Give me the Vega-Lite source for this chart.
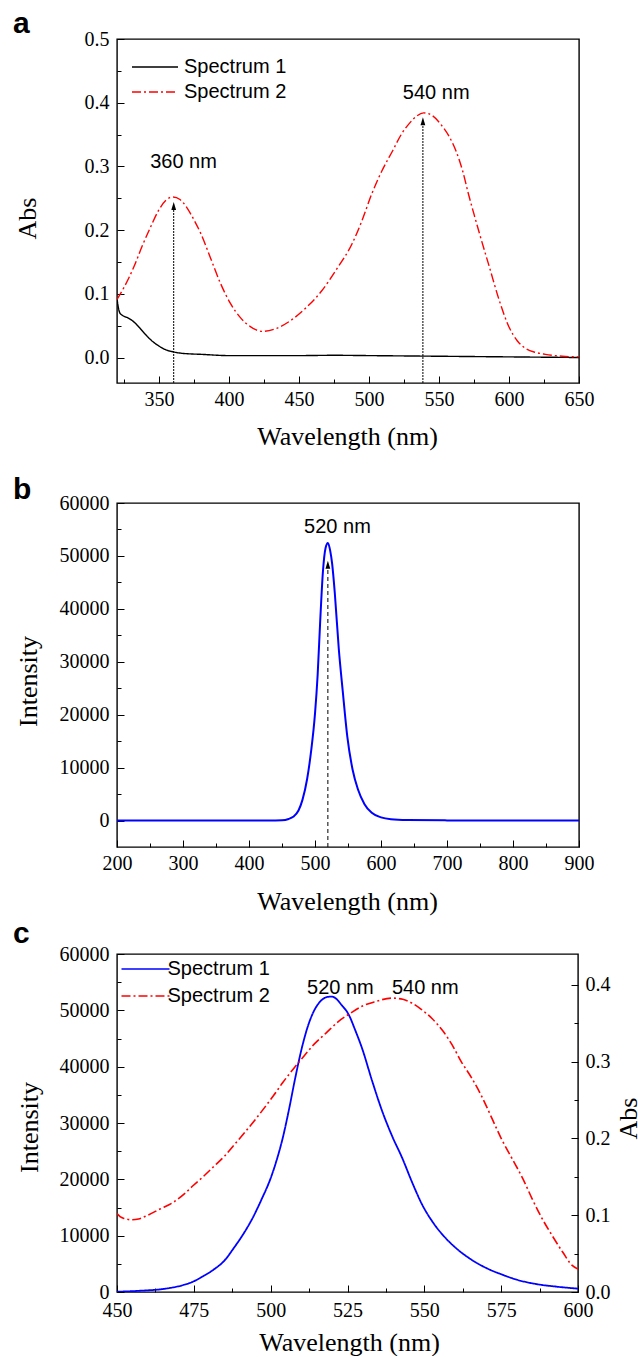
{
  "$schema": "https://vega.github.io/schema/vega-lite/v6.json",
  "padding": {"left": 12, "top": 8, "right": 0, "bottom": 0},
  "spacing": 3,
  "config": {
    "view": {"stroke": "black", "strokeWidth": 1.4},
    "axis": {"labelFont": "Liberation Serif", "labelFontSize": 20, "labelColor": "black", "titleFont": "Liberation Serif", "titleFontSize": 26, "titleFontWeight": "normal", "titleColor": "black", "tickColor": "black", "tickWidth": 1, "domain": false, "grid": false, "labelFlush": false, "labelOverlap": false},
    "text": {"font": "Liberation Sans", "fontSize": 20, "color": "black"},
    "title": {"font": "Liberation Sans", "fontSize": 30, "fontWeight": "bold", "color": "black"}
  },
  "datasets": {
    "A": [
      {"wl": 320, "v": 0.092, "s": "Spectrum 1"}, {"wl": 321, "v": 0.078, "s": "Spectrum 1"}, {"wl": 322, "v": 0.07, "s": "Spectrum 1"}, {"wl": 324, "v": 0.066, "s": "Spectrum 1"}, {"wl": 328, "v": 0.062, "s": "Spectrum 1"}, {"wl": 332, "v": 0.056, "s": "Spectrum 1"}, {"wl": 336, "v": 0.047, "s": "Spectrum 1"}, {"wl": 340, "v": 0.037, "s": "Spectrum 1"}, {"wl": 345, "v": 0.026, "s": "Spectrum 1"}, {"wl": 350, "v": 0.018, "s": "Spectrum 1"}, {"wl": 355, "v": 0.012, "s": "Spectrum 1"}, {"wl": 360, "v": 0.009, "s": "Spectrum 1"}, {"wl": 365, "v": 0.007, "s": "Spectrum 1"}, {"wl": 370, "v": 0.006, "s": "Spectrum 1"}, {"wl": 380, "v": 0.005, "s": "Spectrum 1"}, {"wl": 400, "v": 0.003, "s": "Spectrum 1"}, {"wl": 450, "v": 0.003, "s": "Spectrum 1"}, {"wl": 475, "v": 0.0035, "s": "Spectrum 1"}, {"wl": 500, "v": 0.003, "s": "Spectrum 1"}, {"wl": 550, "v": 0.002, "s": "Spectrum 1"}, {"wl": 600, "v": 0.001, "s": "Spectrum 1"}, {"wl": 650, "v": 0.0, "s": "Spectrum 1"},
      {"wl": 320, "v": 0.091, "s": "Spectrum 2"}, {"wl": 325, "v": 0.11, "s": "Spectrum 2"}, {"wl": 332, "v": 0.142, "s": "Spectrum 2"}, {"wl": 338, "v": 0.175, "s": "Spectrum 2"}, {"wl": 344, "v": 0.205, "s": "Spectrum 2"}, {"wl": 350, "v": 0.232, "s": "Spectrum 2"}, {"wl": 355, "v": 0.247, "s": "Spectrum 2"}, {"wl": 360, "v": 0.252, "s": "Spectrum 2"}, {"wl": 365, "v": 0.248, "s": "Spectrum 2"}, {"wl": 370, "v": 0.235, "s": "Spectrum 2"}, {"wl": 375, "v": 0.216, "s": "Spectrum 2"}, {"wl": 380, "v": 0.194, "s": "Spectrum 2"}, {"wl": 387, "v": 0.155, "s": "Spectrum 2"}, {"wl": 394, "v": 0.116, "s": "Spectrum 2"}, {"wl": 401, "v": 0.085, "s": "Spectrum 2"}, {"wl": 408, "v": 0.063, "s": "Spectrum 2"}, {"wl": 415, "v": 0.049, "s": "Spectrum 2"}, {"wl": 424, "v": 0.041, "s": "Spectrum 2"}, {"wl": 433, "v": 0.045, "s": "Spectrum 2"}, {"wl": 444, "v": 0.058, "s": "Spectrum 2"}, {"wl": 455, "v": 0.078, "s": "Spectrum 2"}, {"wl": 466, "v": 0.104, "s": "Spectrum 2"}, {"wl": 477, "v": 0.139, "s": "Spectrum 2"}, {"wl": 488, "v": 0.179, "s": "Spectrum 2"}, {"wl": 495, "v": 0.215, "s": "Spectrum 2"}, {"wl": 502, "v": 0.257, "s": "Spectrum 2"}, {"wl": 509, "v": 0.292, "s": "Spectrum 2"}, {"wl": 517, "v": 0.325, "s": "Spectrum 2"}, {"wl": 523, "v": 0.35, "s": "Spectrum 2"}, {"wl": 529, "v": 0.368, "s": "Spectrum 2"}, {"wl": 534, "v": 0.379, "s": "Spectrum 2"}, {"wl": 539, "v": 0.384, "s": "Spectrum 2"}, {"wl": 545, "v": 0.38, "s": "Spectrum 2"}, {"wl": 552, "v": 0.364, "s": "Spectrum 2"}, {"wl": 557, "v": 0.348, "s": "Spectrum 2"}, {"wl": 562, "v": 0.325, "s": "Spectrum 2"}, {"wl": 567, "v": 0.292, "s": "Spectrum 2"}, {"wl": 571, "v": 0.257, "s": "Spectrum 2"}, {"wl": 575, "v": 0.225, "s": "Spectrum 2"}, {"wl": 579, "v": 0.194, "s": "Spectrum 2"}, {"wl": 586, "v": 0.142, "s": "Spectrum 2"}, {"wl": 593, "v": 0.09, "s": "Spectrum 2"}, {"wl": 600, "v": 0.048, "s": "Spectrum 2"}, {"wl": 606, "v": 0.026, "s": "Spectrum 2"}, {"wl": 612, "v": 0.014, "s": "Spectrum 2"}, {"wl": 619, "v": 0.008, "s": "Spectrum 2"}, {"wl": 626, "v": 0.005, "s": "Spectrum 2"}, {"wl": 638, "v": 0.002, "s": "Spectrum 2"}, {"wl": 650, "v": 0.001, "s": "Spectrum 2"}
    ],
    "Aarrow": [{"wl": 360.5, "y": -0.04, "y2": 0.238}, {"wl": 538.5, "y": -0.04, "y2": 0.371}],
    "Atext": [{"wl": 367.5, "v": 0.298, "t": "360 nm"}, {"wl": 548, "v": 0.406, "t": "540 nm"}],
    "B": [
      {"wl": 200, "v": 0}, {"wl": 300, "v": 0}, {"wl": 400, "v": 0}, {"wl": 440, "v": 20}, {"wl": 450, "v": 50}, {"wl": 460, "v": 300}, {"wl": 467, "v": 700}, {"wl": 475, "v": 1900}, {"wl": 481, "v": 3900}, {"wl": 488, "v": 7800}, {"wl": 494, "v": 13000}, {"wl": 500, "v": 20200}, {"wl": 504, "v": 27500}, {"wl": 508, "v": 38000}, {"wl": 512, "v": 47000}, {"wl": 516, "v": 51500}, {"wl": 519.5, "v": 52450}, {"wl": 523, "v": 51000}, {"wl": 526, "v": 48500}, {"wl": 530, "v": 43000}, {"wl": 536, "v": 32500}, {"wl": 542, "v": 24500}, {"wl": 549, "v": 15800}, {"wl": 557, "v": 9600}, {"wl": 565, "v": 5900}, {"wl": 575, "v": 3100}, {"wl": 586, "v": 1450}, {"wl": 600, "v": 600}, {"wl": 615, "v": 250}, {"wl": 640, "v": 100}, {"wl": 700, "v": 30}, {"wl": 800, "v": 0}, {"wl": 900, "v": 0}
    ],
    "Barrow": [{"wl": 519.5, "y": -5000, "y2": 48345}],
    "Btext": [{"wl": 534, "v": 54330, "t": "520 nm"}],
    "C": [
      {"wl": 450, "v": 50, "s": "Spectrum 1"}, {"wl": 455, "v": 150, "s": "Spectrum 1"}, {"wl": 460, "v": 300, "s": "Spectrum 1"}, {"wl": 463, "v": 410, "s": "Spectrum 1"}, {"wl": 467, "v": 700, "s": "Spectrum 1"}, {"wl": 471, "v": 1150, "s": "Spectrum 1"}, {"wl": 475, "v": 1900, "s": "Spectrum 1"}, {"wl": 478, "v": 2800, "s": "Spectrum 1"}, {"wl": 481.4, "v": 3960, "s": "Spectrum 1"}, {"wl": 485, "v": 5600, "s": "Spectrum 1"}, {"wl": 488, "v": 7800, "s": "Spectrum 1"}, {"wl": 491, "v": 10200, "s": "Spectrum 1"}, {"wl": 494, "v": 13000, "s": "Spectrum 1"}, {"wl": 497, "v": 16400, "s": "Spectrum 1"}, {"wl": 500, "v": 20200, "s": "Spectrum 1"}, {"wl": 502, "v": 23500, "s": "Spectrum 1"}, {"wl": 504, "v": 27500, "s": "Spectrum 1"}, {"wl": 506, "v": 32500, "s": "Spectrum 1"}, {"wl": 508, "v": 38000, "s": "Spectrum 1"}, {"wl": 510, "v": 43000, "s": "Spectrum 1"}, {"wl": 512, "v": 47000, "s": "Spectrum 1"}, {"wl": 514, "v": 49800, "s": "Spectrum 1"}, {"wl": 516, "v": 51500, "s": "Spectrum 1"}, {"wl": 518, "v": 52300, "s": "Spectrum 1"}, {"wl": 519.7, "v": 52450, "s": "Spectrum 1"}, {"wl": 521, "v": 52200, "s": "Spectrum 1"}, {"wl": 523, "v": 51000, "s": "Spectrum 1"}, {"wl": 525.4, "v": 49230, "s": "Spectrum 1"}, {"wl": 527.5, "v": 46500, "s": "Spectrum 1"}, {"wl": 529.7, "v": 43320, "s": "Spectrum 1"}, {"wl": 533, "v": 37500, "s": "Spectrum 1"}, {"wl": 536.3, "v": 32080, "s": "Spectrum 1"}, {"wl": 539.5, "v": 27700, "s": "Spectrum 1"}, {"wl": 542.8, "v": 23790, "s": "Spectrum 1"}, {"wl": 546, "v": 19500, "s": "Spectrum 1"}, {"wl": 549.3, "v": 15500, "s": "Spectrum 1"}, {"wl": 553, "v": 12200, "s": "Spectrum 1"}, {"wl": 556.9, "v": 9590, "s": "Spectrum 1"}, {"wl": 560.5, "v": 7700, "s": "Spectrum 1"}, {"wl": 564.5, "v": 6040, "s": "Spectrum 1"}, {"wl": 570, "v": 4300, "s": "Spectrum 1"}, {"wl": 575.4, "v": 3070, "s": "Spectrum 1"}, {"wl": 580, "v": 2200, "s": "Spectrum 1"}, {"wl": 586.3, "v": 1420, "s": "Spectrum 1"}, {"wl": 593, "v": 950, "s": "Spectrum 1"}, {"wl": 600, "v": 590, "s": "Spectrum 1"},
      {"wl": 450, "v": 0.102, "s": "Spectrum 2"}, {"wl": 451, "v": 0.098, "s": "Spectrum 2"}, {"wl": 452.5, "v": 0.0955, "s": "Spectrum 2"}, {"wl": 455, "v": 0.094, "s": "Spectrum 2"}, {"wl": 457, "v": 0.095, "s": "Spectrum 2"}, {"wl": 460, "v": 0.1, "s": "Spectrum 2"}, {"wl": 464, "v": 0.108, "s": "Spectrum 2"}, {"wl": 468.4, "v": 0.117, "s": "Spectrum 2"}, {"wl": 472, "v": 0.128, "s": "Spectrum 2"}, {"wl": 474.9, "v": 0.139, "s": "Spectrum 2"}, {"wl": 478, "v": 0.15, "s": "Spectrum 2"}, {"wl": 481.4, "v": 0.163, "s": "Spectrum 2"}, {"wl": 485, "v": 0.177, "s": "Spectrum 2"}, {"wl": 488, "v": 0.191, "s": "Spectrum 2"}, {"wl": 491, "v": 0.205, "s": "Spectrum 2"}, {"wl": 494.5, "v": 0.222, "s": "Spectrum 2"}, {"wl": 498, "v": 0.24, "s": "Spectrum 2"}, {"wl": 501, "v": 0.256, "s": "Spectrum 2"}, {"wl": 504, "v": 0.273, "s": "Spectrum 2"}, {"wl": 507.5, "v": 0.291, "s": "Spectrum 2"}, {"wl": 511, "v": 0.308, "s": "Spectrum 2"}, {"wl": 514, "v": 0.322, "s": "Spectrum 2"}, {"wl": 518, "v": 0.337, "s": "Spectrum 2"}, {"wl": 522, "v": 0.352, "s": "Spectrum 2"}, {"wl": 526, "v": 0.363, "s": "Spectrum 2"}, {"wl": 529.7, "v": 0.372, "s": "Spectrum 2"}, {"wl": 534, "v": 0.378, "s": "Spectrum 2"}, {"wl": 539.5, "v": 0.3826, "s": "Spectrum 2"}, {"wl": 543, "v": 0.381, "s": "Spectrum 2"}, {"wl": 546, "v": 0.376, "s": "Spectrum 2"}, {"wl": 549, "v": 0.368, "s": "Spectrum 2"}, {"wl": 552.5, "v": 0.356, "s": "Spectrum 2"}, {"wl": 556, "v": 0.34, "s": "Spectrum 2"}, {"wl": 559, "v": 0.322, "s": "Spectrum 2"}, {"wl": 562, "v": 0.3, "s": "Spectrum 2"}, {"wl": 565.5, "v": 0.278, "s": "Spectrum 2"}, {"wl": 569, "v": 0.252, "s": "Spectrum 2"}, {"wl": 572, "v": 0.226, "s": "Spectrum 2"}, {"wl": 575, "v": 0.2, "s": "Spectrum 2"}, {"wl": 578.5, "v": 0.174, "s": "Spectrum 2"}, {"wl": 582, "v": 0.148, "s": "Spectrum 2"}, {"wl": 585, "v": 0.122, "s": "Spectrum 2"}, {"wl": 588, "v": 0.098, "s": "Spectrum 2"}, {"wl": 591.5, "v": 0.074, "s": "Spectrum 2"}, {"wl": 595, "v": 0.052, "s": "Spectrum 2"}, {"wl": 598, "v": 0.035, "s": "Spectrum 2"}, {"wl": 600, "v": 0.0298, "s": "Spectrum 2"}
    ],
    "Ctext1": [{"wl": 522.7, "v": 52900, "t": "520 nm"}],
    "Ctext2": [{"wl": 550.3, "v": 0.3878, "t": "540 nm"}]
  },
  "resolve": {"scale": {"color": "independent", "strokeDash": "independent"}},
  "vconcat": [
    {
      "width": 462, "height": 344,
      "title": {"text": "a", "anchor": "start", "frame": "group", "dx": -104, "offset": -10},
      "resolve": {"axis": {"x": "independent", "y": "independent"}},
      "layer": [
        {
          "data": {"name": "A"},
          "mark": {"type": "line", "strokeWidth": 1.4, "clip": true, "interpolate": "monotone"},
          "encoding": {
            "x": {"field": "wl", "type": "quantitative", "scale": {"domain": [320, 650], "nice": false, "zero": false},
                  "axis": {"orient": "bottom", "values": [350, 400, 450, 500, 550, 600, 650], "format": "d", "title": "Wavelength (nm)", "labelFont": "Liberation Serif", "tickSize": -7, "labelPadding": 13, "titleX": 230, "titleY": 61, "titleBaseline": "alphabetic", "titleAlign": "center"}},
            "y": {"field": "v", "type": "quantitative", "scale": {"domain": [-0.04, 0.5], "nice": false, "zero": false},
                  "axis": {"orient": "left", "values": [0, 0.1, 0.2, 0.3, 0.4, 0.5], "format": ".1f", "title": "Abs", "labelFont": "Liberation Serif", "tickSize": -7, "labelPadding": 15, "titleX": -82, "titleY": 179, "titleAngle": -90, "titleBaseline": "alphabetic", "titleAlign": "center"}},
            "color": {"field": "s", "type": "nominal", "scale": {"domain": ["Spectrum 1", "Spectrum 2"], "range": ["#000000", "#ff0000"]},
                      "legend": {"orient": "none", "legendX": 14, "legendY": 17, "title": null, "padding": 0, "symbolType": "M-2.3,0H2.3", "symbolSize": 400, "symbolOffset": 13, "labelOffset": 18, "symbolStrokeWidth": 1.4, "labelFont": "Liberation Sans", "labelFontSize": 20, "labelColor": "black", "rowPadding": 4}},
            "strokeDash": {"field": "s", "type": "nominal", "scale": {"domain": ["Spectrum 1", "Spectrum 2"], "range": [[1, 0], [9, 3, 2, 3]]},
                      "legend": {"orient": "none", "legendX": 14, "legendY": 17, "title": null, "padding": 0, "symbolType": "M-2.3,0H2.3", "symbolSize": 400, "symbolOffset": 13, "labelOffset": 18, "symbolStrokeWidth": 1.4, "labelFont": "Liberation Sans", "labelFontSize": 20, "labelColor": "black", "rowPadding": 4}}
          }
        },
        {
          "data": {"name": "Aarrow"},
          "mark": {"type": "rule", "color": "black", "strokeWidth": 1, "strokeDash": [2, 1]},
          "encoding": {
            "x": {"field": "wl", "type": "quantitative", "axis": {"orient": "bottom", "values": [325, 375, 425, 475, 525, 575, 625], "labels": false, "title": null, "tickSize": -4}},
            "y": {"field": "y", "type": "quantitative", "axis": {"orient": "left", "values": [0.05, 0.15, 0.25, 0.35, 0.45], "labels": false, "title": null, "tickSize": -4}},
            "y2": {"field": "y2"}
          }
        },
        {
          "data": {"name": "Aarrow"},
          "mark": {"type": "point", "shape": "M0,-1L-0.6,1L0.6,1Z", "size": 64, "filled": true, "color": "black", "opacity": 1, "strokeWidth": 0},
          "encoding": {
            "x": {"field": "wl", "type": "quantitative", "axis": null},
            "y": {"field": "y2", "type": "quantitative", "axis": null}
          }
        },
        {
          "data": {"name": "Atext"},
          "mark": {"type": "text", "align": "center", "baseline": "alphabetic"},
          "encoding": {
            "x": {"field": "wl", "type": "quantitative", "axis": null},
            "y": {"field": "v", "type": "quantitative", "axis": null},
            "text": {"field": "t"}
          }
        }
      ]
    },
    {
      "width": 462, "height": 344,
      "title": {"text": ["", "b"], "lineHeight": 21, "anchor": "start", "frame": "group", "dx": -104, "offset": -12},
      "resolve": {"axis": {"x": "independent", "y": "independent"}},
      "layer": [
        {
          "data": {"name": "B"},
          "mark": {"type": "line", "strokeWidth": 2, "color": "#0000ff", "clip": true, "interpolate": "monotone"},
          "encoding": {
            "x": {"field": "wl", "type": "quantitative", "scale": {"domain": [200, 900], "nice": false, "zero": false},
                  "axis": {"orient": "bottom", "values": [200, 300, 400, 500, 600, 700, 800, 900], "format": "d", "title": "Wavelength (nm)", "labelFont": "Liberation Serif", "tickSize": -7, "labelPadding": 13, "titleX": 230, "titleY": 62, "titleBaseline": "alphabetic", "titleAlign": "center"}},
            "y": {"field": "v", "type": "quantitative", "scale": {"domain": [-5000, 60000], "nice": false, "zero": false},
                  "axis": {"orient": "left", "values": [0, 10000, 20000, 30000, 40000, 50000, 60000], "format": "d", "title": "Intensity", "labelFont": "Liberation Serif", "tickSize": -7, "labelPadding": 15, "titleX": -81, "titleY": 178, "titleAngle": -90, "titleBaseline": "alphabetic", "titleAlign": "center"}}
          }
        },
        {
          "data": {"name": "Barrow"},
          "mark": {"type": "rule", "color": "black", "strokeWidth": 1, "strokeDash": [4, 3]},
          "encoding": {
            "x": {"field": "wl", "type": "quantitative", "axis": {"orient": "bottom", "values": [250, 350, 450, 550, 650, 750, 850], "labels": false, "title": null, "tickSize": -4}},
            "y": {"field": "y", "type": "quantitative", "axis": {"orient": "left", "values": [5000, 15000, 25000, 35000, 45000, 55000], "labels": false, "title": null, "tickSize": -4}},
            "y2": {"field": "y2"}
          }
        },
        {
          "data": {"name": "Barrow"},
          "mark": {"type": "point", "shape": "M0,-1L-0.6,1L0.6,1Z", "size": 64, "filled": true, "color": "black", "opacity": 1, "strokeWidth": 0},
          "encoding": {
            "x": {"field": "wl", "type": "quantitative", "axis": null},
            "y": {"field": "y2", "type": "quantitative", "axis": null}
          }
        },
        {
          "data": {"name": "Btext"},
          "mark": {"type": "text", "align": "center", "baseline": "alphabetic"},
          "encoding": {
            "x": {"field": "wl", "type": "quantitative", "axis": null},
            "y": {"field": "v", "type": "quantitative", "axis": null},
            "text": {"field": "t"}
          }
        }
      ]
    },
    {
      "width": 461, "height": 338,
      "title": {"text": "c", "anchor": "start", "frame": "group", "dx": -104, "offset": -5},
      "resolve": {"scale": {"y": "independent"}, "axis": {"x": "independent", "y": "independent"}},
      "layer": [
        {
          "data": {"name": "C"},
          "transform": [{"filter": "datum.s === 'Spectrum 1'"}],
          "mark": {"type": "line", "strokeWidth": 1.8, "clip": true, "interpolate": "monotone"},
          "encoding": {
            "x": {"field": "wl", "type": "quantitative", "scale": {"domain": [450, 600], "nice": false, "zero": false},
                  "axis": {"orient": "bottom", "values": [450, 475, 500, 525, 550, 575, 600], "format": "d", "title": "Wavelength (nm)", "labelFont": "Liberation Serif", "tickSize": -7, "labelPadding": 15, "titleX": 232, "titleY": 58, "titleBaseline": "alphabetic", "titleAlign": "center"}},
            "y": {"field": "v", "type": "quantitative", "scale": {"domain": [0, 60000], "nice": false, "zero": false},
                  "axis": {"orient": "left", "values": [0, 10000, 20000, 30000, 40000, 50000, 60000], "format": "d", "title": "Intensity", "labelFont": "Liberation Serif", "tickSize": -7, "labelPadding": 15, "titleX": -80, "titleY": 173, "titleAngle": -90, "titleBaseline": "alphabetic", "titleAlign": "center"}},
            "color": {"field": "s", "type": "nominal", "scale": {"domain": ["Spectrum 1", "Spectrum 2"], "range": ["#0000ff", "#ff0000"]},
                      "legend": {"orient": "none", "legendX": 3.5, "legendY": 4, "title": null, "padding": 0, "symbolType": "M-2.4,0H2.4", "symbolSize": 400, "symbolOffset": 14, "labelOffset": 11, "symbolStrokeWidth": 1.6, "labelFont": "Liberation Sans", "labelFontSize": 20, "labelColor": "black", "rowPadding": 6}},
            "strokeDash": {"field": "s", "type": "nominal", "scale": {"domain": ["Spectrum 1", "Spectrum 2"], "range": [[1, 0], [9, 3, 2, 3]]},
                      "legend": {"orient": "none", "legendX": 3.5, "legendY": 4, "title": null, "padding": 0, "symbolType": "M-2.4,0H2.4", "symbolSize": 400, "symbolOffset": 14, "labelOffset": 11, "symbolStrokeWidth": 1.6, "labelFont": "Liberation Sans", "labelFontSize": 20, "labelColor": "black", "rowPadding": 6}}
          }
        },
        {
          "data": {"name": "C"},
          "transform": [{"filter": "datum.s === 'Spectrum 2'"}],
          "mark": {"type": "line", "strokeWidth": 1.6, "clip": true, "interpolate": "monotone"},
          "encoding": {
            "x": {"field": "wl", "type": "quantitative", "axis": null},
            "y": {"field": "v", "type": "quantitative", "scale": {"domain": [0, 0.44], "nice": false, "zero": false},
                  "axis": {"orient": "right", "values": [0, 0.1, 0.2, 0.3, 0.4], "format": ".1f", "title": "Abs", "labelFont": "Liberation Serif", "tickSize": -7, "labelPadding": 14, "titleX": 58, "titleY": 164, "titleAngle": -90, "titleBaseline": "alphabetic", "titleAlign": "center"}},
            "color": {"field": "s", "type": "nominal"},
            "strokeDash": {"field": "s", "type": "nominal"}
          }
        },
        {
          "data": {"name": "Ctext1"},
          "mark": {"type": "text", "align": "center", "baseline": "alphabetic"},
          "encoding": {
            "x": {"field": "wl", "type": "quantitative", "axis": {"orient": "bottom", "values": [462.5, 487.5, 512.5, 537.5, 562.5, 587.5], "labels": false, "title": null, "tickSize": -4}},
            "y": {"field": "v", "type": "quantitative", "scale": {"domain": [0, 60000], "nice": false, "zero": false}, "axis": {"orient": "left", "values": [5000, 15000, 25000, 35000, 45000, 55000], "labels": false, "title": null, "tickSize": -4}},
            "text": {"field": "t"}
          }
        },
        {
          "data": {"name": "Ctext2"},
          "mark": {"type": "text", "align": "center", "baseline": "alphabetic"},
          "encoding": {
            "x": {"field": "wl", "type": "quantitative", "axis": null},
            "y": {"field": "v", "type": "quantitative", "scale": {"domain": [0, 0.44], "nice": false, "zero": false}, "axis": {"orient": "right", "values": [0.05, 0.15, 0.25, 0.35], "labels": false, "title": null, "tickSize": -4}},
            "text": {"field": "t"}
          }
        }
      ]
    }
  ]
}
